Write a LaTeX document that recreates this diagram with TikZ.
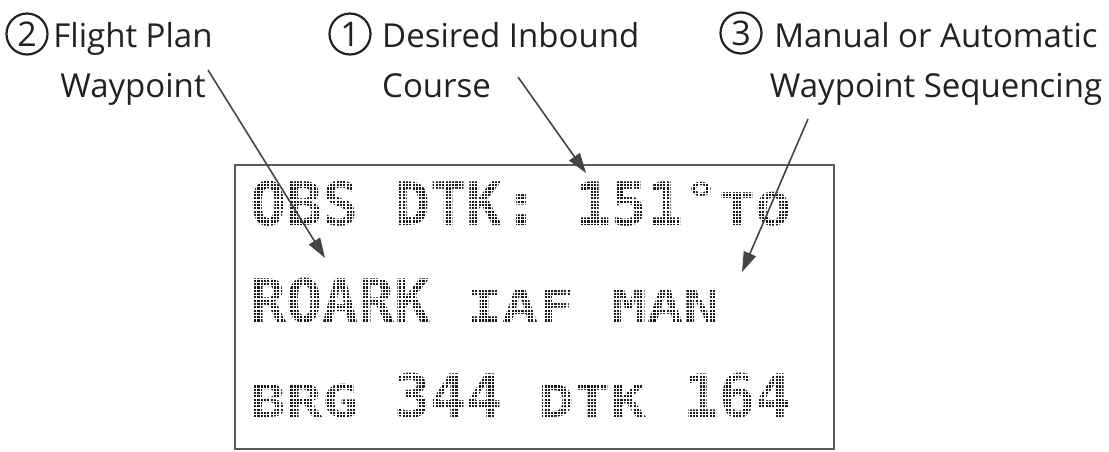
\documentclass[tikz,border=0pt]{standalone}
\usepackage{fontspec}
\setmainfont{Open Sans}
\newfontfamily\lcdfont{DejaVu Sans Mono}
\usetikzlibrary{arrows.meta}
\frenchspacing
\definecolor{labelink}{HTML}{222222}
\definecolor{lcdink}{HTML}{1A1A1A}
\definecolor{framegray}{HTML}{5A5A5A}
\definecolor{arrowgray}{HTML}{444444}
\newcommand\lcdsmall[1]{{\fontsize{45}{45}\selectfont\scalebox{1.33}[1]{#1}}}
\tikzset{
  lbl/.style={font=\fontsize{33}{50}\selectfont, text=labelink, inner sep=0pt},
  num/.style={circle, draw=labelink, line width=2.2pt, minimum size=41pt, inner sep=0pt, font=\fontsize{34}{34}\selectfont, text=labelink},
  lcdrow/.style={font=\lcdfont\bfseries\fontsize{60}{60}\selectfont, text=lcdink, inner sep=0pt, anchor=base west},
  pointer/.style={draw=arrowgray, line width=1.6pt, -{Triangle[length=20pt,width=13pt]}},
  lcdframe/.style={draw=framegray, line width=2.2pt, minimum width=599pt, minimum height=284pt, inner sep=0pt},
  dotgrid/.style={white, line width=1.2pt},
}
\begin{document}
\begin{tikzpicture}[x=1pt,y=-1pt]
\useasboundingbox (0,0) rectangle (1109,451);
% callout labels
\node[num] (n2) at (27,34) {2};
\node[lbl, anchor=base, align=center] (l2) at (133,97) {Flight Plan\\Waypoint};
\node[num] (n1) at (350,34) {1};
\node[lbl, anchor=base west, align=left] (l1) at (382,97) {Desired Inbound\\Course};
\node[num] (n3) at (741,33) {3};
\node[lbl, anchor=base, align=center] (l3) at (936,97) {Manual or Automatic\\Waypoint Sequencing};
% display text
\node[lcdrow] (r1) at (250,225) {OBS DTK: 151\lcdsmall{\raisebox{10pt}{°}TO}};
\node[lcdrow] (r2) at (250,322) {ROARK \lcdsmall{IAF} \lcdsmall{MAN}};
\node[lcdrow] (r3) at (250,417) {\lcdsmall{BRG} 344 \lcdsmall{DTK} 164};
% dot-matrix effect
\begin{scope}
\clip (237,167) rectangle (832,447);
\foreach \k in {0,...,86} \draw[dotgrid] (237,167+\k*3.3) -- (832,167+\k*3.3);
\foreach \k in {0,...,181} \draw[dotgrid] (237+\k*3.3,167) -- (237+\k*3.3,447);
\end{scope}
% frame
\node[lcdframe] (lcd) at (534.5,307) {};
% arrows
\coordinate (a2s) at (208,70);
\coordinate (a2e) at (325,258);
\coordinate (a1s) at (518,77);
\coordinate (a1e) at (586,173);
\coordinate (a3s) at (808,119);
\coordinate (a3e) at (742,272);
\draw[pointer] (a2s) -- (a2e);
\draw[pointer] (a1s) -- (a1e);
\draw[pointer] (a3s) -- (a3e);
\end{tikzpicture}
\end{document}
